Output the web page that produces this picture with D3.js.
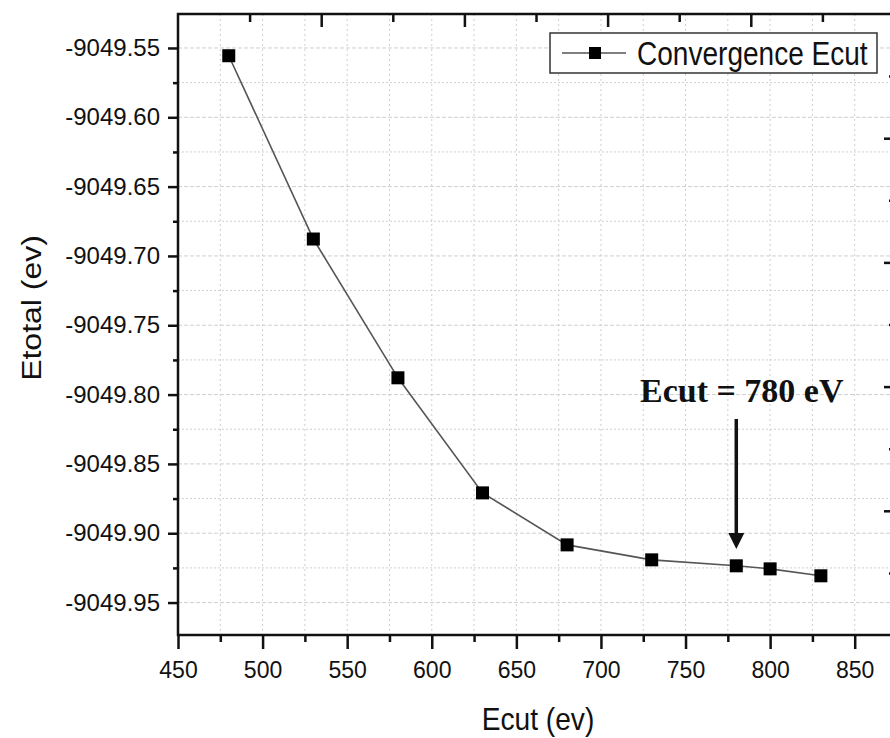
<!DOCTYPE html>
<html>
<head>
<meta charset="utf-8">
<script src="https://cdn.jsdelivr.net/npm/d3@7"></script>
<style>
  body { margin: 0; background: #fff; }
  svg { display: block; font-family: "Liberation Sans", Arial, sans-serif; }
</style>
</head>
<body>
<svg id="chart" width="890" height="738"></svg>
<script>
// data
const ecut = [480, 530, 580, 630, 680, 730, 780, 800, 830];
const etotal = [-9049.5556, -9049.6878, -9049.7879, -9049.8709, -9049.9084, -9049.9192, -9049.9235, -9049.9257, -9049.9307];
const xTicks = [450, 500, 550, 600, 650, 700, 750, 800, 850];
const yTicks = [-9049.55, -9049.60, -9049.65, -9049.70, -9049.75, -9049.80, -9049.85, -9049.90, -9049.95];
const seriesName = 'Convergence Ecut';
const noteText = 'Ecut = 780 eV';
const noteX = 780;

const svg = d3.select('#chart');
const plotLeft = 178, plotRight = 897, plotTop = 14, plotBottom = 635;

const x = d3.scaleLinear().domain([450, 875]).range([plotLeft, plotRight]);
const y = d3.scaleLinear().domain([-9049.9734, -9049.5255]).range([plotBottom, plotTop]);

// the source image is narrowed, so squeeze text horizontally around its anchor
function squeeze(sel, k) {
    sel.each(function() {
        const t = d3.select(this);
        const tx = +t.attr('x') || 0, ty = +t.attr('y') || 0;
        t.attr('x', 0).attr('y', 0)
            .attr('transform', `translate(${tx},${ty}) scale(${k},1)`);
    });
}

// grid
const xGrid = d3.range(475, 876, 25);
const yGrid = d3.range(0, 18).map(i => -9049.95 + i * 0.025).filter(v => v > y.domain()[0] && v < y.domain()[1]);

svg.append('g').selectAll('line')
    .data(xGrid)
    .enter().append('line')
    .attr('x1', d => x(d)).attr('x2', d => x(d))
    .attr('y1', plotTop).attr('y2', plotBottom)
    .attr('stroke', '#cfcfcf')
    .attr('stroke-width', 1)
    .attr('stroke-dasharray', '2,3');

svg.append('g').selectAll('line')
    .data(yGrid)
    .enter().append('line')
    .attr('x1', plotLeft).attr('x2', plotRight)
    .attr('y1', d => y(d)).attr('y2', d => y(d))
    .attr('stroke', '#cfcfcf')
    .attr('stroke-width', 1)
    .attr('stroke-dasharray', (d, i) => i % 2 === 0 ? '4,2' : '2,2');

// axes
const gLeft = svg.append('g')
    .attr('transform', `translate(${plotLeft},0)`)
    .call(d3.axisLeft(y).tickValues(yTicks).tickFormat(d => d.toFixed(2)).tickSize(10).tickPadding(8));
svg.append('g')
    .attr('transform', `translate(${plotLeft},0)`)
    .call(d3.axisLeft(y).tickValues(yTicks.map(v => v - 0.025).filter(v => v > y.domain()[0])).tickFormat('').tickSize(5));

const gBottom = svg.append('g')
    .attr('transform', `translate(0,${plotBottom})`)
    .call(d3.axisBottom(x).tickValues(xTicks).tickSize(14).tickPadding(12));
svg.append('g')
    .attr('transform', `translate(0,${plotBottom})`)
    .call(d3.axisBottom(x).tickValues(xTicks.map(v => v + 25)).tickFormat('').tickSize(7));

// top and right axes have their own spacing in the source
const topScale = d3.scaleLinear().domain([0, 10]).range([plotLeft, plotLeft + 716]);
svg.append('g')
    .attr('transform', `translate(0,${plotTop})`)
    .call(d3.axisTop(topScale).tickValues([2, 4, 6, 8]).tickFormat('').tickSize(-13));
svg.append('g')
    .attr('transform', `translate(0,${plotTop})`)
    .call(d3.axisTop(topScale).tickValues([1, 3, 5, 7, 9]).tickFormat('').tickSize(-8));

const rightScale = d3.scaleLinear().domain([0, 10]).range([plotTop, plotBottom]);
svg.append('g')
    .attr('transform', `translate(${plotRight},0)`)
    .call(d3.axisRight(rightScale).tickValues([2, 4, 6, 8]).tickFormat('').tickSize(-13));
svg.append('g')
    .attr('transform', `translate(${plotRight},0)`)
    .call(d3.axisRight(rightScale).tickValues([1, 3, 5, 7, 9]).tickFormat('').tickSize(-8));

svg.selectAll('.domain').remove();
svg.selectAll('.tick line').attr('stroke', '#111').attr('stroke-width', 2.5);
svg.selectAll('.tick text').attr('fill', '#111').style('font-size', '24px');
squeeze(gBottom.selectAll('.tick text'), 0.96);

svg.append('rect')
    .attr('x', plotLeft).attr('y', plotTop)
    .attr('width', plotRight - plotLeft).attr('height', plotBottom - plotTop)
    .attr('fill', 'none')
    .attr('stroke', '#111')
    .attr('stroke-width', 2.5);

// series
const pts = ecut.map((e, i) => [e, etotal[i]]);
svg.append('path')
    .datum(pts)
    .attr('fill', 'none')
    .attr('stroke', '#555')
    .attr('stroke-width', 1.6)
    .attr('d', d3.line().x(d => x(d[0])).y(d => y(d[1])));

const ms = 13;
svg.append('g').selectAll('rect')
    .data(pts)
    .enter().append('rect')
    .attr('x', d => x(d[0]) - ms / 2)
    .attr('y', d => y(d[1]) - ms / 2)
    .attr('width', ms).attr('height', ms)
    .attr('fill', '#000');

// legend
const lg = svg.append('g');
lg.append('rect')
    .attr('x', 550).attr('y', 33).attr('width', 327).attr('height', 40)
    .attr('fill', '#fff').attr('stroke', '#333').attr('stroke-width', 1.5);
lg.append('line')
    .attr('x1', 562).attr('x2', 626).attr('y1', 53).attr('y2', 53)
    .attr('stroke', '#555').attr('stroke-width', 1.6);
lg.append('rect')
    .attr('x', 595 - 6).attr('y', 53 - 6).attr('width', 12).attr('height', 12)
    .attr('fill', '#000');
lg.append('text')
    .attr('x', 637).attr('y', 65)
    .style('font-size', '33px')
    .attr('fill', '#111')
    .text(seriesName)
    .call(squeeze, 0.85);

// axis titles
svg.append('text')
    .attr('x', 538).attr('y', 730)
    .attr('text-anchor', 'middle')
    .style('font-size', '32px')
    .attr('fill', '#111')
    .text('Ecut (ev)')
    .call(squeeze, 0.88);

svg.append('text')
    .attr('transform', 'translate(41,308) scale(0.88,1) rotate(-90)')
    .attr('text-anchor', 'middle')
    .style('font-size', '32px')
    .attr('fill', '#111')
    .text('Etotal (ev)');

// annotation
svg.append('text')
    .attr('x', 640).attr('y', 402)
    .style('font-family', '"Liberation Serif", "Times New Roman", serif')
    .style('font-weight', 'bold')
    .style('font-size', '34px')
    .attr('fill', '#111')
    .text(noteText);

const ax = x(noteX);
svg.append('line')
    .attr('x1', ax).attr('x2', ax)
    .attr('y1', 419).attr('y2', 536)
    .attr('stroke', '#111').attr('stroke-width', 3.5);
svg.append('path')
    .attr('d', `M${ax - 8},533 L${ax + 8},533 L${ax},549 Z`)
    .attr('fill', '#111');
</script>
</body>
</html>
